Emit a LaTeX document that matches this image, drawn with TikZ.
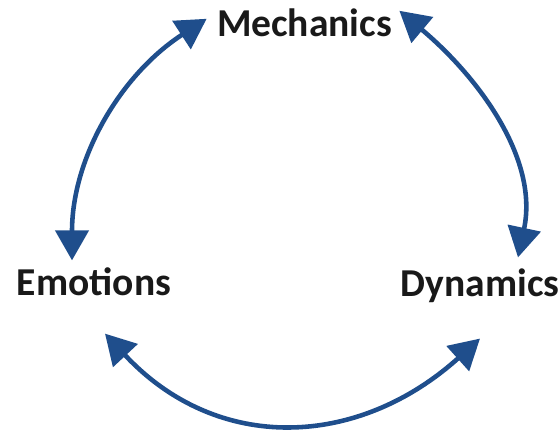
\documentclass[tikz,border=0pt]{standalone}
\usepackage{fontspec}
\setmainfont{Carlito}
\usetikzlibrary{arrows.meta}
\definecolor{arrowblue}{RGB}{31,78,140}
\definecolor{labelgray}{RGB}{25,25,25}
\tikzset{
  stage/.style={inner sep=0pt,anchor=base,text=labelgray,font=\fontsize{22.5}{27}\selectfont\bfseries},
  loopArrow/.style={line width=2.6pt,arrowblue,{Triangle[length=6mm,width=6.6mm]}-{Triangle[length=6mm,width=6.6mm]}}
}
\begin{document}
\begin{tikzpicture}
\useasboundingbox (0,0) rectangle (11.2,8.6);
    \node[stage] at (6.09,7.86) (mech) {Mechanics};
    \node[stage] at (1.88,2.70) (emo) {Emotions};
    \node[stage] at (9.6,2.66) (dyn) {Dynamics};
    \draw [loopArrow,out=90,in=213,looseness=0.95] ([xshift=-4.4mm,yshift=1.3mm]emo.north) to ([xshift=-2mm,yshift=0.9mm]mech.west);
    \draw [loopArrow,out=-40,in=78,looseness=0.95] ([xshift=1.4mm,yshift=2.5mm]mech.east) to ([xshift=7.6mm,yshift=2.3mm]dyn.north);
    \draw [loopArrow,out=-47,in=222,looseness=1.12] ([xshift=2.2mm,yshift=-7.6mm]emo.south) to ([xshift=0mm,yshift=-7mm]dyn.south);
\end{tikzpicture}
\end{document}
